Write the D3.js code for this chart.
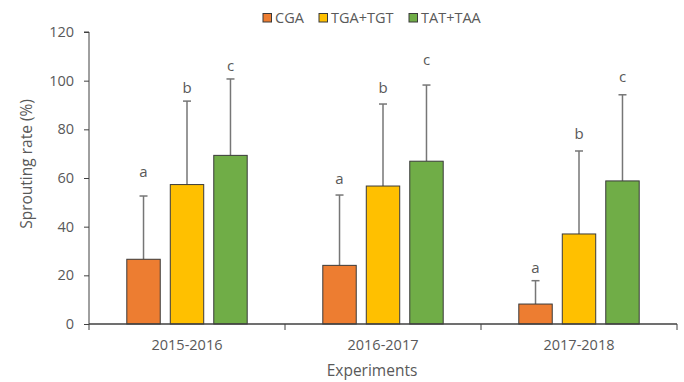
<!DOCTYPE html>
<html><head><meta charset="utf-8">
<script src="https://cdn.jsdelivr.net/npm/d3@7"></script>
<style>body{margin:0;background:#fff}svg{display:block}text{font-family:"Open Sans",sans-serif;fill:#595959}</style>
</head><body><svg id="c" width="684" height="382"></svg>
<script>
const categories = ["2015-2016","2016-2017","2017-2018"];
const seriesNames = ["CGA","TGA+TGT","TAT+TAA"];
const seriesColors = ["#ED7D31","#FFC000","#70AD47"];
const cgaValues = [26.6, 24.1, 8.2];
const tgaValues = [57.3, 56.7, 37.0];
const tatValues = [69.3, 66.9, 58.8];
const cgaErrTop = [52.6, 53.0, 17.8];
const tgaErrTop = [91.6, 90.4, 71.1];
const tatErrTop = [100.7, 98.2, 94.2];
const cgaLetters = ["a","a","a"];
const tgaLetters = ["b","b","b"];
const tatLetters = ["c","c","c"];
const cgaLetterPos = [62, 59, 22.6];
const tgaLetterPos = [96.5, 96.5, 77.5];
const tatLetterPos = [105.5, 108, 101];
const yTicks = [0,20,40,60,80,100,120];

const series = [
  {name:seriesNames[0], color:seriesColors[0], values:cgaValues, err:cgaErrTop, letters:cgaLetters, lpos:cgaLetterPos},
  {name:seriesNames[1], color:seriesColors[1], values:tgaValues, err:tgaErrTop, letters:tgaLetters, lpos:tgaLetterPos},
  {name:seriesNames[2], color:seriesColors[2], values:tatValues, err:tatErrTop, letters:tatLetters, lpos:tatLetterPos}
];

const svg = d3.select("#c");
const L = 89, R = 677, T = 32, B = 324;
const x0 = d3.scaleBand().domain(categories).range([L,R]).paddingInner(0).paddingOuter(0);
const x1 = d3.scaleBand().domain(seriesNames).range([x0.bandwidth()/2 - 60.7, x0.bandwidth()/2 + 60.7]).paddingInner(0.208).paddingOuter(0);
const y = d3.scaleLinear().domain([0,120]).range([B,T]);

series.forEach(s => {
  const g = svg.append("g");
  categories.forEach((c,i) => {
    const bx = x0(c) + x1(s.name);
    const cx = bx + x1.bandwidth()/2;
    g.append("line").attr("x1",cx).attr("x2",cx).attr("y1",y(s.values[i])).attr("y2",y(s.err[i]))
      .attr("stroke","#767676").attr("stroke-width",1.5);
    g.append("line").attr("x1",cx-4).attr("x2",cx+4).attr("y1",y(s.err[i])).attr("y2",y(s.err[i]))
      .attr("stroke","#767676").attr("stroke-width",1.5);
    g.append("rect").attr("x",bx+0.5).attr("y",y(s.values[i])).attr("width",x1.bandwidth()-1)
      .attr("height",y(0)-y(s.values[i])).attr("fill",s.color).attr("stroke","#3a3a3a").attr("stroke-width",1);
    g.append("text").attr("x",cx).attr("y",y(s.lpos[i])).attr("text-anchor","middle")
      .attr("dominant-baseline","middle").style("font-size","15px").text(s.letters[i]);
  });
});

const yAxis = d3.axisLeft(y).tickValues(yTicks).tickSize(5).tickPadding(10);
const ya = svg.append("g").attr("transform",`translate(${L},0)`).call(yAxis);
ya.select(".domain").attr("stroke","#404040").attr("d",`M-5,${T}H0V${B}`);
ya.selectAll(".tick line").attr("stroke","#404040");
ya.selectAll(".tick text").style("font-size","14.5px").style("font-family","'Open Sans',sans-serif").attr("fill","#595959");

const xa = svg.append("g").attr("transform",`translate(0,${B})`);
xa.append("line").attr("x1",L).attr("x2",R).attr("y1",0).attr("y2",0).attr("stroke","#404040").attr("stroke-width",1.3);
const bounds = categories.map(c => x0(c)).concat([x0(categories[categories.length-1]) + x0.bandwidth()]);
xa.selectAll(".sep").data(bounds).enter().append("line")
  .attr("x1",d=>d).attr("x2",d=>d).attr("y1",0).attr("y2",6).attr("stroke","#404040");
xa.selectAll(".lbl").data(categories).enter().append("text")
  .attr("x",d=>x0(d)+x0.bandwidth()/2).attr("y",26).attr("text-anchor","middle")
  .style("font-size","14.5px").text(d=>d);

svg.append("text").attr("transform","translate(32,164) rotate(-90)").attr("text-anchor","middle")
  .style("font-size","15.5px").text("Sprouting rate (%)");
svg.append("text").attr("x",372).attr("y",376).attr("text-anchor","middle")
  .style("font-size","15.5px").text("Experiments");

const legX = [263, 319, 409];
const lg = svg.append("g");
series.forEach((s,i) => {
  lg.append("rect").attr("x",legX[i]).attr("y",13.5).attr("width",8.5).attr("height",8.5)
    .attr("fill",s.color).attr("stroke","#3a3a3a").attr("stroke-width",1);
  lg.append("text").attr("x",legX[i]+12).attr("y",23).style("font-size","14.5px").text(s.name);
});
</script></body></html>
